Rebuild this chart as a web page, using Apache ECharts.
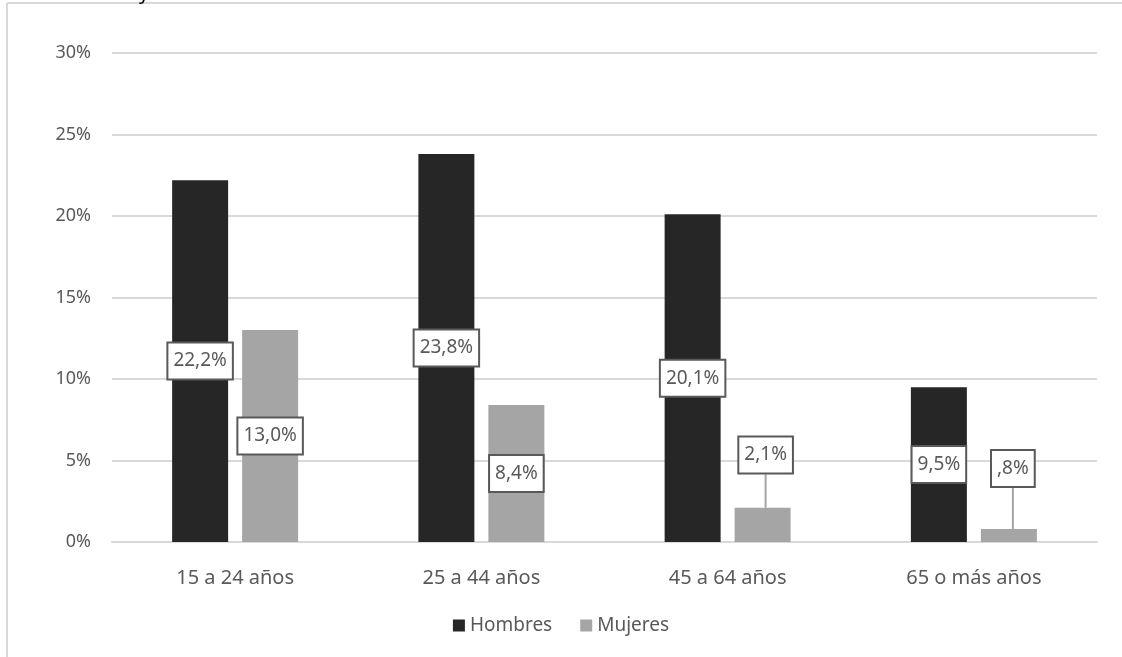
<!DOCTYPE html>
<html>
<head>
<meta charset="utf-8">
<script src="https://cdn.jsdelivr.net/npm/echarts@6/dist/echarts.min.js"></script>
<style>
  html, body { margin: 0; padding: 0; background: #fff; }
  #chart { width: 1122px; height: 657px; }
</style>
</head>
<body>
<div id="chart"></div>
<script>
// Age groups and unemployment share by sex
const categories = ['15 a 24 años', '25 a 44 años', '45 a 64 años', '65 o más años'];
const hombres = [22.2, 23.8, 20.1, 9.5];
const mujeres = [13.0, 8.4, 2.1, 0.8];
const yTicks = [0, 5, 10, 15, 20, 25, 30];

const FONT = '"Noto Sans", "Open Sans", sans-serif';
const TEXT = '#595959';

function fmt(v) {
  // Spanish decimal comma; values below 1 drop the leading zero
  const s = v.toFixed(1).replace('.', ',');
  return (v < 1 ? s.replace(/^0/, '') : s) + '%';
}

const boxLabel = {
  show: true,
  position: 'inside',
  formatter: p => fmt(p.value),
  color: TEXT,
  fontFamily: FONT,
  fontSize: 19,
  lineHeight: 22,
  backgroundColor: '#fff',
  borderColor: '#595959',
  borderWidth: 2,
  padding: [7, 5, 6, 5]
};

const chart = echarts.init(document.getElementById('chart'), null, { renderer: 'canvas' });
chart.setOption({
  backgroundColor: '#fff',
  animation: false,
  graphic: [
    { type: 'line', shape: { x1: 7, y1: 3, x2: 7, y2: 657 }, style: { stroke: '#d9d9d9', lineWidth: 2 } },
    { type: 'line', shape: { x1: 7, y1: 3, x2: 1122, y2: 3 }, style: { stroke: '#d9d9d9', lineWidth: 2 } },
    { type: 'text', left: 139, top: -17, style: { text: 'y', font: '20px ' + FONT, fill: '#000' } }
  ],
  grid: { left: 112, right: 25, top: 53, bottom: 115 },
  legend: {
    bottom: 17,
    left: 'center',
    itemWidth: 12,
    itemHeight: 12,
    itemGap: 28,
    icon: 'rect',
    textStyle: { color: TEXT, fontFamily: FONT, fontSize: 19 },
    data: ['Hombres', 'Mujeres']
  },
  xAxis: {
    type: 'category',
    data: categories,
    axisLine: { lineStyle: { color: '#d9d9d9', width: 2 } },
    axisTick: { show: false },
    axisLabel: { color: TEXT, fontFamily: FONT, fontSize: 20, margin: 26 }
  },
  yAxis: {
    type: 'value',
    min: yTicks[0],
    max: yTicks[yTicks.length - 1],
    interval: 5,
    axisLine: { show: false },
    axisTick: { show: false },
    axisLabel: { color: TEXT, fontFamily: FONT, fontSize: 18, margin: 21, formatter: v => v + '%' },
    splitLine: { lineStyle: { color: '#d9d9d9', width: 2 } }
  },
  series: [
    {
      name: 'Hombres',
      type: 'bar',
      data: hombres,
      barWidth: 56,
      barGap: '25%',
      itemStyle: { color: '#262626' },
      label: boxLabel
    },
    {
      name: 'Mujeres',
      type: 'bar',
      data: mujeres,
      barWidth: 56,
      itemStyle: { color: '#a5a5a5' },
      label: boxLabel,
      labelLine: { show: true, lineStyle: { color: '#a5a5a5', width: 2 } },
      labelLayout: function (p) {
        // short bars: lift the label above the bar with a leader line
        if (p.dataIndex === 2) return { dx: 3, dy: -70 };
        if (p.dataIndex === 3) return { dx: 4, dy: -67 };
        return {};
      }
    }
  ]
});
</script>
</body>
</html>
